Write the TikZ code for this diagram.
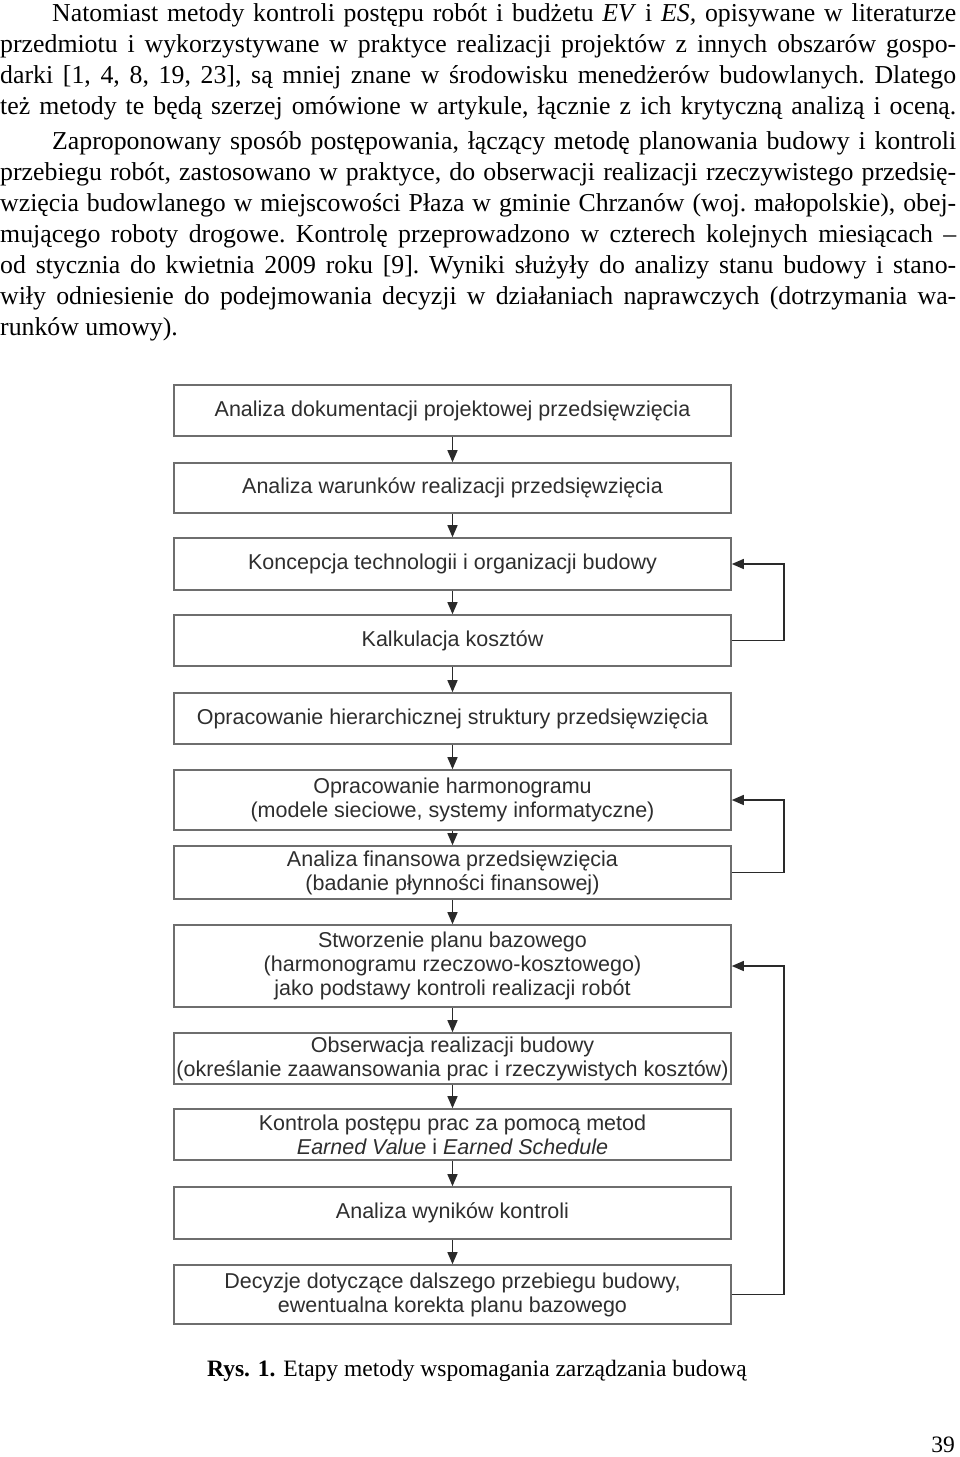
\documentclass[tikz,border=0pt]{standalone}
\usepackage{fontspec}
\setmainfont{Liberation Serif}
\newfontfamily\arialf{Liberation Sans}
\usetikzlibrary{arrows.meta}
\definecolor{boxgray}{HTML}{6E6E6E}
\definecolor{textgray}{HTML}{2E2E2E}
\definecolor{arrowc}{HTML}{2A2A2A}
\newcommand{\parsetup}{\tolerance=10000\hbadness=10000\hyphenpenalty=10000\frenchspacing\spaceskip=0.25em plus 0.6em minus 0.1em\relax}
\tikzset{
  stepbox/.style={draw=boxgray, line width=1.6pt, fill=white, minimum width=557pt,
    inner xsep=0pt, inner ysep=2pt, align=center, text=textgray,
    font=\arialf\fontsize{21.5}{24}\selectfont},
  arr/.style={draw=arrowc, line width=1.4pt, -{Triangle[length=12pt,width=10pt]}},
  para/.style={anchor=north west, inner sep=0pt, text width=956pt, align=justify,
    font=\fontsize{25.8}{31.1}\selectfont}
}
\begin{document}
\begin{tikzpicture}[x=1pt,y=-1pt]
\useasboundingbox (0,0) rectangle (960,1457);
% paragraphs
\node[para] (p1) at (0,-0.7) {\parsetup\parfillskip=0pt\strut\hspace*{52pt}Natomiast metody kontroli postępu robót i budżetu \textit{EV} i \textit{ES,} opisywane w literaturze\linebreak
przedmiotu i wykorzystywane w praktyce realizacji projektów z innych obszarów gospo-\linebreak
darki [1, 4, 8, 19, 23], są mniej znane w środowisku menedżerów budowlanych. Dlatego\linebreak
też metody te będą szerzej omówione w artykule, łącznie z ich krytyczną analizą i oceną.\par};
\node[para] (p2) at (0,127.3) {\parsetup\strut\hspace*{52pt}Zaproponowany sposób postępowania, łączący metodę planowania budowy i kontroli\linebreak
przebiegu robót, zastosowano w praktyce, do obserwacji realizacji rzeczywistego przedsię-\linebreak
wzięcia budowlanego w miejscowości Płaza w gminie Chrzanów (woj. małopolskie), obej-\linebreak
mującego roboty drogowe. Kontrolę przeprowadzono w czterech kolejnych miesiącach –\linebreak
od stycznia do kwietnia 2009 roku [9]. Wyniki służyły do analizy stanu budowy i stano-\linebreak
wiły odniesienie do podejmowania decyzji w działaniach naprawczych (dotrzymania wa-\linebreak
runków umowy).\par};
% boxes
\node[stepbox, minimum height=51pt] (b1) at (452.5,410.5) {Analiza dokumentacji projektowej przedsięwzięcia};
\node[stepbox, minimum height=50pt] (b2) at (452.5,488) {Analiza warunków realizacji przedsięwzięcia};
\node[stepbox, minimum height=52pt] (b3) at (452.5,564) {Koncepcja technologii i organizacji budowy};
\node[stepbox, minimum height=51pt] (b4) at (452.5,640.5) {Kalkulacja kosztów};
\node[stepbox, minimum height=51pt] (b5) at (452.5,718.5) {Opracowanie hierarchicznej struktury przedsięwzięcia};
\node[stepbox, minimum height=60pt] (b6) at (452.5,800) {Opracowanie harmonogramu\\(modele sieciowe, systemy informatyczne)};
\node[stepbox, minimum height=53pt] (b7) at (452.5,872.5) {Analiza finansowa przedsięwzięcia\\(badanie płynności finansowej)};
\node[stepbox, minimum height=82pt] (b8) at (452.5,966) {Stworzenie planu bazowego\\(harmonogramu rzeczowo-kosztowego)\\jako podstawy kontroli realizacji robót};
\node[stepbox, minimum height=51pt] (b9) at (452.5,1058.5) {Obserwacja realizacji budowy\\(określanie zaawansowania prac i rzeczywistych kosztów)};
\node[stepbox, minimum height=51pt] (b10) at (452.5,1134.5) {Kontrola postępu prac za pomocą metod\\\textit{Earned Value} i \textit{Earned Schedule}};
\node[stepbox, minimum height=52pt] (b11) at (452.5,1213) {Analiza wyników kontroli};
\node[stepbox, minimum height=59pt] (b12) at (452.5,1294.5) {Decyzje dotyczące dalszego przebiegu budowy,\\ewentualna korekta planu bazowego};
% down arrows
\draw[arr] (b1) -- (b2);
\draw[arr] (b2) -- (b3);
\draw[arr] (b3) -- (b4);
\draw[arr] (b4) -- (b5);
\draw[arr] (b5) -- (b6);
\draw[arr] (b6) -- (b7);
\draw[arr] (b7) -- (b8);
\draw[arr] (b8) -- (b9);
\draw[arr] (b9) -- (b10);
\draw[arr] (b10) -- (b11);
\draw[arr] (b11) -- (b12);
% feedback loops
\draw[arr] (b4.east) -- ++(52,0) |- (b3.east);
\draw[arr] (b7.east) -- ++(52,0) |- (b6.east);
\draw[arr] (b12.east) -- ++(52,0) |- (b8.east);
% caption and page number
\node[anchor=base west, inner sep=0pt, font=\fontsize{23.5}{28}\selectfont] (cap) at (207,1376) {\textbf{Rys. 1.} Etapy metody wspomagania zarządzania budową};
\node[anchor=base east, inner sep=0pt, font=\fontsize{23.5}{28}\selectfont] (pg) at (955,1452) {39};
\end{tikzpicture}
\end{document}
